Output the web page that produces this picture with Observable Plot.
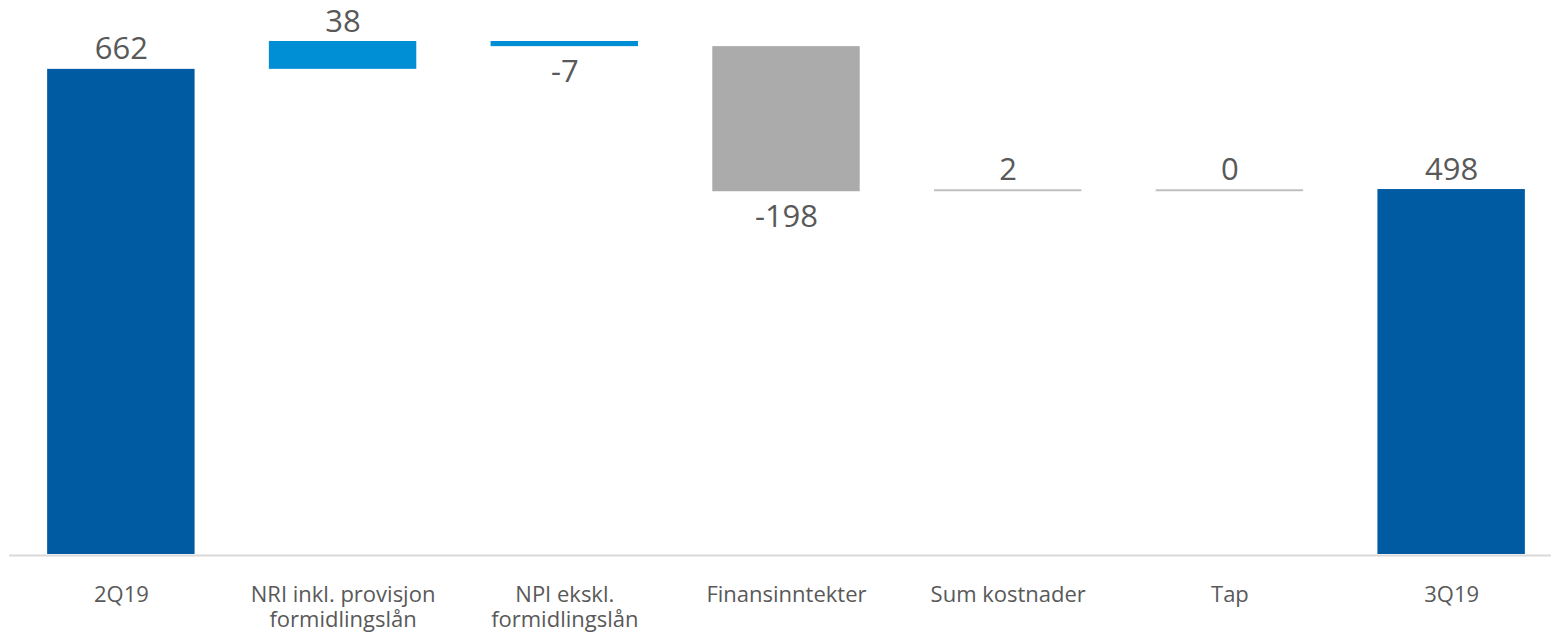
<!DOCTYPE html>
<html>
<head>
<meta charset="utf-8">
<script src="https://cdn.jsdelivr.net/npm/d3@7"></script>
<script src="https://cdn.jsdelivr.net/npm/@observablehq/plot@0.6"></script>
<style>
  html, body { margin: 0; padding: 0; background: #fff; }
  #chart svg { display: block; }
</style>
</head>
<body>
<div id="chart"></div>
<script>
const categories = ["2Q19", "NRI inkl. provisjon formidlingslån", "NPI ekskl. formidlingslån", "Finansinntekter", "Sum kostnader", "Tap", "3Q19"];
const tickLabels = ["2Q19", "NRI inkl. provisjon\nformidlingslån", "NPI ekskl.\nformidlingslån", "Finansinntekter", "Sum kostnader", "Tap", "3Q19"];
const values = [662, 38, -7, -198, 2, 0, 498];
const kinds = ["total", "delta", "delta", "delta", "delta", "delta", "total"];
const groups = ["total", "income", "income", "other", "minor", "minor", "total"];

// build waterfall table
let running = 0;
const data = categories.map((c, i) => {
  let y1, y2;
  if (kinds[i] === "total") { y1 = 0; y2 = values[i]; running = values[i]; }
  else { y1 = running; y2 = running + values[i]; running = y2; }
  return { cat: c, label: tickLabels[i], value: values[i], kind: kinds[i], group: groups[i], y1, y2,
           top: Math.max(y1, y2), bottom: Math.min(y1, y2) };
});

const above = data.filter(d => d.value >= 0);
const below = data.filter(d => d.value < 0);
const minor = data.filter(d => d.group === "minor");

const font = "'Open Sans', 'Noto Sans', sans-serif";

const chart = Plot.plot({
  width: 1551,
  height: 636,
  marginLeft: 9,
  marginRight: 0,
  marginTop: 41,
  marginBottom: 82,
  style: { fontFamily: font, background: "#fff" },
  x: { type: "band", domain: categories, range: [10, 1562], paddingInner: 0.335, paddingOuter: 0.1675, round: false, axis: null },
  y: { domain: [0, 700], axis: null },
  color: { domain: ["total", "income", "other", "minor"], range: ["#005BA3", "#008FD5", "#ABABAB", "#BFBFBF"] },
  marks: [
    Plot.ruleY([0], { stroke: "#D9D9D9", strokeWidth: 2, dy: 1 }),
    Plot.barY(data.filter(d => d.group !== "minor"), { x: "cat", y1: "y1", y2: "y2", fill: "group" }),
    Plot.tickY(minor, { x: "cat", y: "y2", stroke: "group", strokeWidth: 2 }),
    Plot.text(above, { x: "cat", y: "top", text: d => String(d.value), lineAnchor: "bottom", dy: -10, fontSize: 31, fill: "#595959" }),
    Plot.text(below, { x: "cat", y: "bottom", text: d => String(d.value), lineAnchor: "top", dy: 13, fontSize: 31, fill: "#595959" }),
    Plot.text(data, { x: "cat", y: 0, text: "label", lineAnchor: "top", dy: 29, fontSize: 22, lineHeight: 1.16, fill: "#595959" })
  ]
});
document.getElementById("chart").appendChild(chart);
</script>
</body>
</html>
